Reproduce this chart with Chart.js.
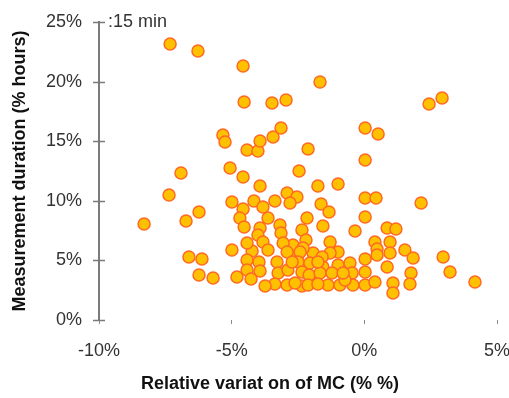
<!DOCTYPE html>
<html><head><meta charset="utf-8">
<script src="https://cdn.jsdelivr.net/npm/chart.js@4/dist/chart.umd.min.js"></script>
<style>html,body{margin:0;padding:0;background:#fff;overflow:hidden;} #wrap{width:509px;height:398px;}</style>
</head><body><div id="wrap"><canvas id="c" width="509" height="398"></canvas></div>
<script>
// Relative variation of MC (%)
const xValues = [
  -7.32,-6.27,-4.57,-4.53,-3.48,-2.95,-1.67,2.44,2.93,-5.33,
  -5.25,-4.42,-4.01,-3.93,-3.44,-3.14,-2.12,0.03,0.52,0.03,
  -2.46,-6.91,-5.06,-4.57,-3.93,-7.36,-4.99,-4.57,-4.16,-3.82,
  -1.75,-0.99,-2.91,-2.54,-3.37,-2.80,-1.63,-1.33,0.03,0.44,
  2.14,-6.23,-6.72,-8.30,-4.69,-4.53,-3.93,-3.63,-2.16,0.03,
  -3.18,-3.14,-1.56,-0.35,0.86,1.19,-4.01,-2.35,-2.20,-1.29,
  -0.99,-2.69,-3.06,-3.82,-4.23,0.40,0.97,0.48,0.97,1.53,
  1.84,2.97,-1.93,-2.50,-2.31,-4.99,-4.42,-6.61,-6.12,-4.42,
  -3.97,-6.23,-5.70,-4.80,-4.42,-4.27,-3.93,-3.29,-3.25,-3.37,
  -2.88,-2.91,-2.91,-2.42,-2.50,-2.35,-2.35,-2.05,-2.08,-2.12,
  -1.29,-1.59,-1.56,-1.67,-1.37,-0.99,-0.92,-1.22,-0.54,-0.46,
  -0.43,0.03,0.03,0.03,0.48,0.40,1.76,1.72,0.86,1.08,
  1.08,3.23,4.17,-3.74,-2.61,-1.75,-0.73,-2.72,-1.75,-3.63,
  -0.80
];
// Measurement duration (% hours)
const yValues = [
  23.15,22.57,21.31,18.29,18.20,18.46,19.97,18.12,18.62,15.52,
  14.93,14.26,14.18,15.02,15.35,16.11,14.35,16.11,15.60,13.42,
  12.50,12.33,12.75,12.00,11.24,10.49,9.90,9.31,9.98,9.48,
  11.24,11.41,10.65,10.32,9.98,9.82,9.73,9.06,10.23,10.23,
  9.82,9.06,8.31,8.05,8.56,7.80,7.72,8.56,8.56,8.64,
  7.97,7.30,7.89,7.47,7.72,7.63,7.13,7.55,6.71,6.54,
  5.70,6.29,6.46,6.54,5.79,6.54,6.54,5.96,5.62,5.87,
  5.20,5.29,5.62,5.45,6.04,5.87,6.46,5.29,5.12,5.03,
  4.87,3.78,3.52,3.61,4.19,3.44,4.11,4.87,3.94,3.02,
  4.19,2.94,5.70,5.70,4.87,4.03,2.85,4.78,3.78,2.94,
  5.62,5.29,4.45,3.94,2.94,4.61,2.94,3.94,4.78,3.94,
  2.94,5.12,4.03,2.94,5.45,3.19,3.94,3.02,4.45,3.10,
  2.27,4.03,3.19,2.85,3.10,3.02,3.36,4.87,4.87,5.87,
  3.94
];
const xTickValues = [-10, -5, 0, 5];
const yTickValues = [0, 5, 10, 15, 20, 25];
const xTitle = 'Relative variat on of MC (% %)';
const yTitle = 'Measurement duration (% hours)';
const markerNote = ':15 min';

const points = xValues.map((x, i) => ({ x: x, y: yValues[i] }));
const FONT = '"Liberation Sans", Arial, Helvetica, sans-serif';

const axisMarks = {
  id: 'axisMarks',
  afterDraw(chart) {
    const ctx = chart.ctx, ys = chart.scales.y, xs = chart.scales.x;
    const ax = xs.getPixelForValue(-10);
    ctx.save();
    ctx.strokeStyle = '#7a7a7a';
    ctx.lineWidth = 1.5;
    yTickValues.forEach(v => {
      const py = Math.round(ys.getPixelForValue(v)) + 0.5;
      ctx.beginPath(); ctx.moveTo(ax - 6, py); ctx.lineTo(ax + 6, py); ctx.stroke();
    });
    ctx.fillStyle = '#333';
    ctx.font = '18px ' + FONT;
    ctx.textBaseline = 'middle';
    ctx.textAlign = 'left';
    ctx.fillText(markerNote, ax + 9, ys.getPixelForValue(25));
    // x axis title (placed slightly left of the plot centre, as in the source)
    ctx.fillStyle = '#111';
    ctx.font = 'bold 18px ' + FONT;
    ctx.textAlign = 'center';
    const ca = chart.chartArea;
    ctx.fillText(xTitle, (ca.left + ca.right) / 2 - 28, chart.height - 14);
    ctx.restore();
  }
};

new Chart(document.getElementById('c'), {
  type: 'scatter',
  data: {
    datasets: [{
      data: points,
      backgroundColor: 'rgb(255,192,0)',
      borderColor: 'rgb(255,105,35)',
      borderWidth: 1.5,
      pointRadius: 6,
      pointHoverRadius: 6
    }]
  },
  options: {
    responsive: false,
    animation: false,
    devicePixelRatio: 1,
    layout: { padding: { top: 22, right: 12, left: 0, bottom: 0 } },
    plugins: { legend: { display: false }, tooltip: { enabled: false } },
    scales: {
      x: {
        type: 'linear', min: -10, max: 5,
        afterBuildTicks: s => { s.ticks = xTickValues.map(v => ({ value: v })); },
        afterFit: s => { s.height = 78; s.paddingLeft = 0; s.paddingRight = 0; },
        grid: { display: true, drawOnChartArea: false, drawTicks: true, tickLength: 4, color: '#8a8a8a', lineWidth: 1 },
        border: { display: false },
        ticks: { color: '#333', font: { family: FONT, size: 18 }, padding: 16, maxRotation: 0, callback: v => v + '%' },
        title: { display: false }
      },
      y: {
        type: 'linear', min: 0, max: 25,
        afterBuildTicks: s => { s.ticks = yTickValues.map(v => ({ value: v })); },
        afterFit: s => { s.width = 99; s.paddingTop = 0; s.paddingBottom = 0; },
        grid: { display: false },
        border: { display: true, color: '#7a7a7a', width: 2 },
        ticks: { color: '#333', font: { family: FONT, size: 18 }, padding: 9, callback: v => v + '%' },
        title: { display: true, text: yTitle, color: '#111', font: { family: FONT, size: 18, weight: 'bold' }, padding: { top: 9, bottom: 4 } }
      }
    }
  },
  plugins: [axisMarks]
});
</script></body></html>
